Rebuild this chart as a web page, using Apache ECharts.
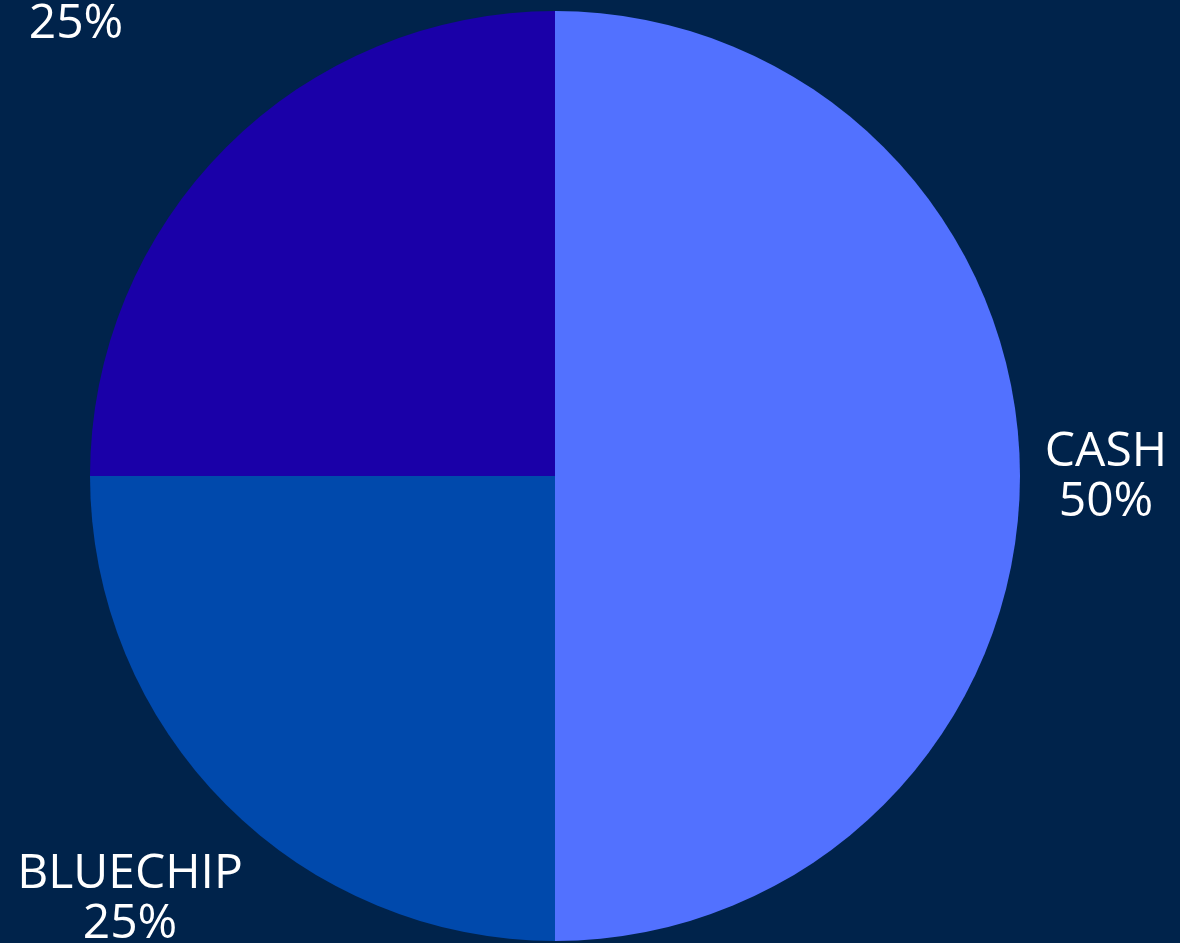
<!DOCTYPE html>
<html>
<head>
<meta charset="utf-8">
<script src="https://cdn.jsdelivr.net/npm/echarts@6/dist/echarts.min.js"></script>
<style>
html,body{margin:0;padding:0;background:#00234B;}
#chart{width:1180px;height:943px;}
</style>
</head>
<body>
<div id="chart"></div>
<script>
const categories = ['CASH', 'BLUECHIP', 'GROWTH'];
const values = [50, 25, 25];
const colors = ['#5271FF', '#0049AC', '#1A00A8'];
const labelAnchors = [[1106, 477], [130, 899], [76, -1]];

const chart = echarts.init(document.getElementById('chart'));
chart.setOption({
  backgroundColor: '#00234B',
  animation: false,
  series: [{
    type: 'pie',
    center: [555, 476],
    radius: 465,
    startAngle: 90,
    clockwise: true,
    data: categories.map((c, i) => ({ name: c, value: values[i], itemStyle: { color: colors[i] } })),
    itemStyle: { borderWidth: 0 },
    label: {
      show: true,
      position: 'outside',
      formatter: p => p.name + '\n' + Math.round(p.percent) + '%',
      color: '#ffffff',
      fontFamily: '"Open Sans", sans-serif',
      fontSize: 48,
      lineHeight: 50,
      align: 'center',
      overflow: 'none',
      width: 400
    },
    labelLine: { show: false },
    labelLayout: p => ({
      x: labelAnchors[p.dataIndex][0],
      y: labelAnchors[p.dataIndex][1],
      align: 'center',
      verticalAlign: 'middle'
    })
  }]
});
</script>
</body>
</html>
